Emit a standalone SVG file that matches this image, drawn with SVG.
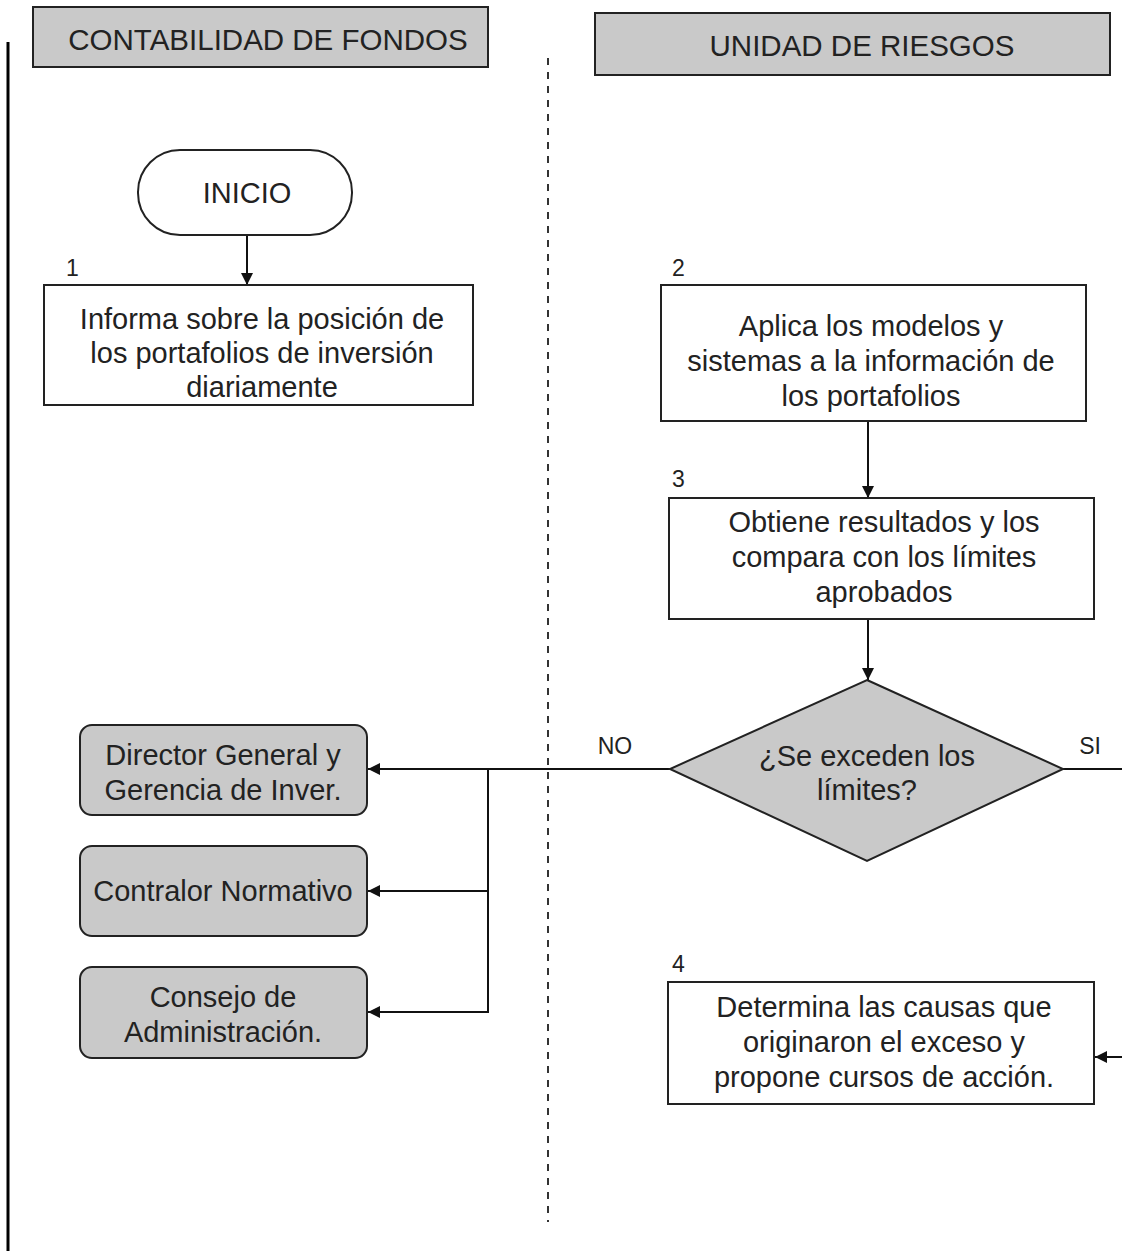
<svg xmlns="http://www.w3.org/2000/svg" width="1122" height="1251" viewBox="0 0 1122 1251">
<style>
.t{font-family:"Liberation Sans",Arial,sans-serif;font-size:29px;fill:#222;text-anchor:middle}
.h{font-family:"Liberation Sans",Arial,sans-serif;font-size:29.5px;fill:#222;text-anchor:middle}
.n{font-family:"Liberation Sans",Arial,sans-serif;font-size:23px;fill:#222}
.box{fill:#fff;stroke:#222;stroke-width:2}
.gray{fill:#c9c9c9;stroke:#222;stroke-width:2}
.ln{fill:none;stroke:#111;stroke-width:2}
</style>
<defs>
<marker id="ah" viewBox="0 0 12 12" refX="12" refY="6" markerWidth="12" markerHeight="12" markerUnits="userSpaceOnUse" orient="auto">
<path d="M0,0 L12,6 L0,12 Z" fill="#111"/>
</marker>
</defs>
<rect width="1122" height="1251" fill="#fff"/>
<g id="frame">
<line x1="8" y1="42" x2="8" y2="1251" stroke="#000" stroke-width="3"/>
<line x1="548" y1="58" x2="548" y2="1222" stroke="#333" stroke-width="2" stroke-dasharray="7 7"/>
</g>
<g id="lane1">
<rect class="gray" x="33" y="7" width="455" height="60"/>
<text class="h" x="268" y="50">CONTABILIDAD DE FONDOS</text>
</g>
<g id="lane2">
<rect class="gray" x="595" y="13" width="515" height="62"/>
<text class="h" x="862" y="56">UNIDAD DE RIESGOS</text>
</g>
<g id="connectors">
<line class="ln" x1="247" y1="235" x2="247" y2="285" marker-end="url(#ah)"/>
<line class="ln" x1="868" y1="421" x2="868" y2="498" marker-end="url(#ah)"/>
<line class="ln" x1="868" y1="619" x2="868" y2="680" marker-end="url(#ah)"/>
<line class="ln" x1="670" y1="769" x2="368" y2="769" marker-end="url(#ah)"/>
<polyline class="ln" points="488,769 488,1012 368,1012" marker-end="url(#ah)"/>
<line class="ln" x1="488" y1="891" x2="368" y2="891" marker-end="url(#ah)"/>
<polyline class="ln" points="1063,769 1130,769 1130,1057 1095,1057" marker-end="url(#ah)"/>
<text class="n" x="615" y="754" text-anchor="middle">NO</text>
<text class="n" x="1090" y="754" text-anchor="middle">SI</text>
</g>
<g id="inicio">
<rect class="box" x="138" y="150" width="214" height="85" rx="42" ry="42"/>
<text class="t" x="247" y="203">INICIO</text>
</g>
<g id="step1">
<text class="n" x="66" y="276">1</text>
<rect class="box" x="44" y="285" width="429" height="120"/>
<text class="t" x="262" y="329">Informa sobre la posición de</text>
<text class="t" x="262" y="363">los portafolios de inversión</text>
<text class="t" x="262" y="397">diariamente</text>
</g>
<g id="step2">
<text class="n" x="672" y="276">2</text>
<rect class="box" x="661" y="285" width="425" height="136"/>
<text class="t" x="871" y="336">Aplica los modelos y</text>
<text class="t" x="871" y="371">sistemas a la información de</text>
<text class="t" x="871" y="406">los portafolios</text>
</g>
<g id="step3">
<text class="n" x="672" y="487">3</text>
<rect class="box" x="669" y="498" width="425" height="121"/>
<text class="t" x="884" y="532">Obtiene resultados y los</text>
<text class="t" x="884" y="567">compara con los límites</text>
<text class="t" x="884" y="602">aprobados</text>
</g>
<g id="decision">
<polygon class="gray" points="867,680 1063,769 867,861 670,769" stroke-width="1.5"/>
<text class="t" x="867" y="766">¿Se exceden los</text>
<text class="t" x="867" y="800">límites?</text>
</g>
<g id="director">
<rect class="gray" x="80" y="725" width="287" height="90" rx="12" ry="12"/>
<text class="t" x="223" y="765">Director General y</text>
<text class="t" x="223" y="800">Gerencia de Inver.</text>
</g>
<g id="contralor">
<rect class="gray" x="80" y="846" width="287" height="90" rx="12" ry="12"/>
<text class="t" x="223" y="901">Contralor Normativo</text>
</g>
<g id="consejo">
<rect class="gray" x="80" y="967" width="287" height="91" rx="12" ry="12"/>
<text class="t" x="223" y="1007">Consejo de</text>
<text class="t" x="223" y="1042">Administración.</text>
</g>
<g id="step4">
<text class="n" x="672" y="972">4</text>
<rect class="box" x="668" y="982" width="426" height="122"/>
<text class="t" x="884" y="1017">Determina las causas que</text>
<text class="t" x="884" y="1052">originaron el exceso y</text>
<text class="t" x="884" y="1087">propone cursos de acción.</text>
</g>
</svg>
